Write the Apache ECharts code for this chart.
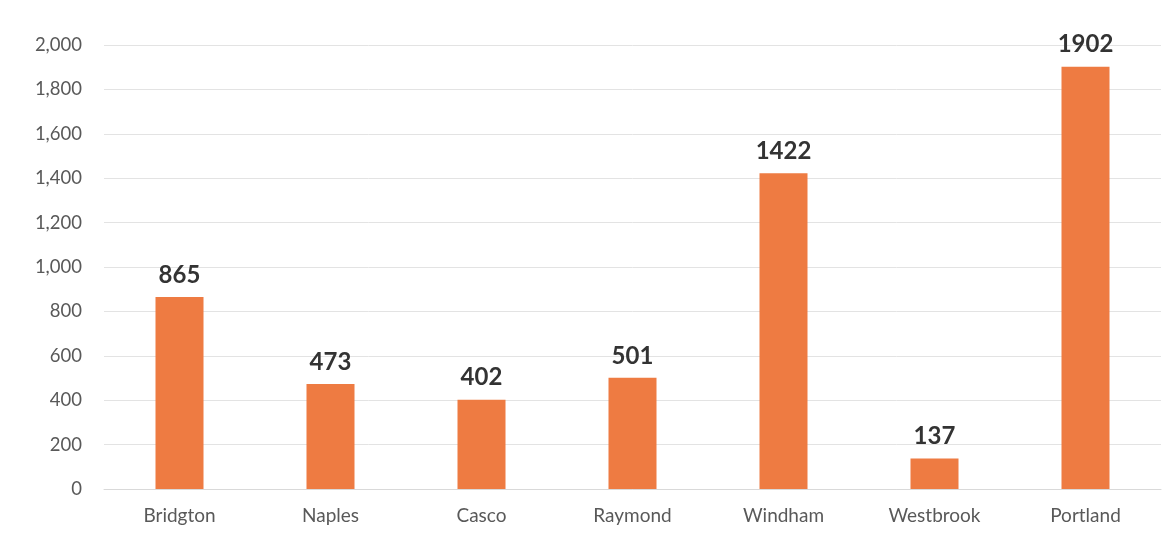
<!DOCTYPE html>
<html><head><meta charset="utf-8">
<script src="https://cdn.jsdelivr.net/npm/echarts@6/dist/echarts.min.js"></script>
<style>html,body{margin:0;padding:0;background:#fff}#c{width:1175px;height:540px}</style>
</head><body><div id="c"></div>
<script>
const categories = ['Bridgton','Naples','Casco','Raymond','Windham','Westbrook','Portland'];
const values = [865, 473, 402, 501, 1422, 137, 1902];
const yTicks = {min: 0, max: 2000, interval: 200};

const chart = echarts.init(document.getElementById('c'));
chart.setOption({
  animation: false,
  grid: {left: 104, right: 14, top: 45, bottom: 51, containLabel: false},
  xAxis: {
    type: 'category', data: categories,
    axisLine: {show: true, lineStyle: {color: '#d9d9d9'}},
    axisTick: {show: false},
    axisLabel: {color: '#595959', fontFamily: 'Lato', fontSize: 19, margin: 17}
  },
  yAxis: {
    type: 'value', min: yTicks.min, max: yTicks.max, interval: yTicks.interval,
    axisLine: {show: false}, axisTick: {show: false},
    splitLine: {lineStyle: {color: '#e3e3e3', width: 1}},
    axisLabel: {color: '#595959', fontFamily: 'Lato', fontSize: 18.5, margin: 22,
      formatter: v => v.toLocaleString('en-US')}
  },
  series: [{
    type: 'bar', data: values, barWidth: 48,
    itemStyle: {color: '#EE7B42'},
    label: {show: true, position: 'top', distance: 10, color: '#333333',
      fontFamily: 'Lato', fontWeight: 'bold', fontSize: 24}
  }]
});
</script></body></html>
